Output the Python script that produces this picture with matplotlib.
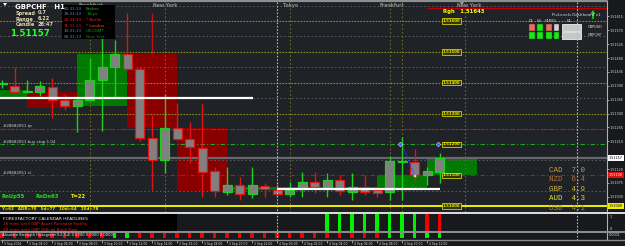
import matplotlib
matplotlib.use("Agg")
import matplotlib.pyplot as plt
from matplotlib.patches import Rectangle, Polygon

W, H = 625, 246
BG = "#1f2226"
AXBG = "#17191c"

# ---- data ----
symbol = "GBPCHF"
timeframe = "H1"
spread = "0.7"
day_range = "6.22"
candle_left = "28:47"
bid = 1.51157
rgh = 1.51643

opens = [1.51396, 1.51390, 1.51370, 1.51371, 1.51387, 1.51345, 1.51323, 1.51345, 1.51409, 1.51451,
         1.51493, 1.51445, 1.51220, 1.51149, 1.51252, 1.51216, 1.51188, 1.51114, 1.51046, 1.51069,
         1.51040, 1.51065, 1.51053, 1.51040, 1.51056, 1.51078, 1.51062, 1.51085, 1.51046, 1.51062,
         1.51053, 1.51046, 1.51144, 1.51143, 1.51101, 1.51110]
highs = [1.51409, 1.51451, 1.51409, 1.51406, 1.51416, 1.51364, 1.51351, 1.51480, 1.51557, 1.51538,
         1.51625, 1.51451, 1.51294, 1.51364, 1.51335, 1.51274, 1.51335, 1.51126, 1.51126, 1.51094,
         1.51126, 1.51075, 1.51078, 1.51078, 1.51110, 1.51110, 1.51107, 1.51101, 1.51107, 1.51101,
         1.51062, 1.51162, 1.51223, 1.51184, 1.51126, 1.51171]
lows = [1.51384, 1.51364, 1.51368, 1.51358, 1.51287, 1.51310, 1.51239, 1.51342, 1.51245, 1.51351,
        1.51441, 1.51210, 1.51053, 1.51107, 1.51213, 1.51139, 1.51030, 1.51030, 1.51036, 1.51020,
        1.51027, 1.51030, 1.51030, 1.51030, 1.51030, 1.51043, 1.51030, 1.51036, 1.51020, 1.51036,
        1.51030, 1.51020, 1.51020, 1.51078, 1.51069, 1.51075]
closes = [1.51400, 1.51371, 1.51372, 1.51390, 1.51345, 1.51323, 1.51345, 1.51409, 1.51451, 1.51493,
          1.51445, 1.51220, 1.51149, 1.51252, 1.51216, 1.51191, 1.51110, 1.51049, 1.51069, 1.51040,
          1.51069, 1.51056, 1.51040, 1.51053, 1.51078, 1.51062, 1.51085, 1.51049, 1.51062, 1.51046,
          1.51043, 1.51146, 1.51146, 1.51101, 1.51114, 1.51157]

# session boxes
box_start = [-0.2, 2, 6, 10, 14, 18, 30, 34]
box_end = [2, 6, 10, 14, 18, 30, 34, 38]
box_low = [1.51351, 1.51319, 1.51323, 1.51252, 1.51049, 1.51053, 1.51059, 1.51101]
box_high = [1.51377, 1.51371, 1.51493, 1.51493, 1.51252, 1.51062, 1.51101, 1.51155]
box_bull = [True, False, True, False, False, True, True, True]

grid_levels = [1.5165, 1.5155, 1.5145, 1.5135, 1.5125, 1.5115, 1.5105]
pivot_levels = [1.516, 1.515, 1.514, 1.513]
tag_levels = [1.516, 1.515, 1.514, 1.513, 1.512, 1.511, 1.510]
tp_level, entry_level, sl_level, y_level = 1.5125, 1.512, 1.511, 1.510
order_id = "#28682051"

# white range lines (start bar, end bar, price)
wline_start = [-0.2, 22]
wline_end = [20.1, 35.04]
wline_price = [1.51351, 1.51056]

session_bars = [7, 13, 23, 31, 32, 37]
day_bars = [22, 46]
session_names = ["Frankfurt", "New York", "Tokyo", "Frankfurt", "New York"]
session_name_bars = [6.1, 12.1, 22.5, 30.2, 36.4]

# 1.51165 is hidden under the bid tag in the screenshot
axis_ticks = [1.51615, 1.51570, 1.51525, 1.51480, 1.51435, 1.51390, 1.51345, 1.51300,
              1.51255, 1.51210, 1.51120, 1.51075, 1.51030]

hist_bars = [26, 27, 28, 29, 30, 31, 32, 33, 34, 35]
hist_up = [1, 1, 1, 1, 1, 1, 1, 1, 0, 0]
ash_up = [0, 0, 0, 0, 0, 0, 0, 0, 0, 1, 1, 0, 0, 0, 0, 0, 0, 0, 0, 0,
          0, 0, 0, 0, 0, 0, 0, 0, 0, 0, 0, 1, 1, 1, 1, 1]

time_bars = [0, 2, 4, 6, 8, 10, 12, 14, 16, 18, 20, 22, 24, 26, 28, 30, 32, 34]
time_labels = ["3 Sep 2014", "3 Sep 04:00", "3 Sep 06:00", "3 Sep 08:00", "3 Sep 10:00",
               "3 Sep 12:00", "3 Sep 14:00", "3 Sep 16:00", "3 Sep 18:00", "3 Sep 20:00",
               "3 Sep 22:00", "4 Sep 00:00", "4 Sep 02:00", "4 Sep 04:00", "4 Sep 06:00",
               "4 Sep 08:00", "4 Sep 10:00", "4 Sep 12:00"]

clock_times = ["10:31:13", "19:31:13", "12:31:13", "11:31:13", "10:31:13", "06:31:13"]
clock_names = ["Broker", "Tokyo", "* Berlin", "* London", "UTC/GMT", "New York"]

dash_cols = ["D1", "H4", "H1M15", "H1"]
dash_pairs = ["GBPUSD", "GBPCHF"]
dash_sig = [["dn", "up", "dn", "flat"], ["up", "up", "up", "up"]]

ccy_names = ["CAD", "NZD", "GBP", "AUD", "USD"]
ccy_vals = [7.0, 6.4, 4.9, 4.3, 4.1]

headlines = ["28 mins until GBP Asset Purchase Facility",
             "28 mins until GBP Official Bank Rate"]


fig = plt.figure(figsize=(W / 100, H / 100), dpi=100, facecolor=AXBG)


def px_axes(x0, y0, x1, y1):
    a = fig.add_axes([x0 / W, 1 - y1 / H, (x1 - x0) / W, (y1 - y0) / H])
    a.set_facecolor(BG)
    return a


XL = (-0.16, 48.4)

# ---- main chart ----
ax = px_axes(0, 0, 607, 212)
ax.set_xlim(*XL)
ax.set_ylim(1.50981, 1.51668)
for s in ax.spines.values():
    s.set_visible(False)
ax.set_xticks([])
ax.yaxis.tick_right()
ax.set_yticks(axis_ticks)
ax.set_yticklabels(["%.5f" % t for t in axis_ticks])
ax.tick_params(axis="y", colors="#d8d8d8", labelsize=2.4, length=1.5, width=0.5, pad=0.6)

for b0, b1, lo, hi, bull in zip(box_start, box_end, box_low, box_high, box_bull):
    ax.add_patch(Rectangle((b0, lo), b1 - b0, hi - lo, facecolor="#007a00" if bull else "#8a0000",
                           edgecolor="none", zorder=1))

for g in grid_levels:
    ax.axhline(g, color="#5c5f64", lw=0.7, ls=(0, (1.5, 2.5)), zorder=1.5)
for p in pivot_levels:
    ax.axhline(p, color="#8e8e1c", lw=0.8, ls=(0, (1.5, 1.2)), zorder=1.6)
ax.axhline(tp_level, color="#b41818", lw=0.8, ls=(0, (4, 2, 1, 2)), zorder=1.6)
ax.axhline(entry_level, color="#20a820", lw=0.8, ls=(0, (4, 2, 1, 2)), zorder=1.6)
ax.axhline(sl_level, color="#b41818", lw=0.8, ls=(0, (4, 2, 1, 2)), zorder=1.6)
ax.axhline(y_level, color="#ffff00", lw=1.3, zorder=1.6)
ax.axhline(bid, color="#66686c", lw=1.6, zorder=1.4)

for b in session_bars:
    ax.axvline(b, color="#6c6c22", lw=0.8, ls=(0, (1.5, 2)), zorder=1.5)
ax.vlines(12, box_high[3], highs[10], color="#c01010", lw=1, zorder=1.5)
ax.hlines(rgh, 34, XL[1], color="#c00000", lw=1, zorder=1.7)

# candles
for i, (o, h, l, c) in enumerate(zip(opens, highs, lows, closes)):
    col = "#1ed01e" if c >= o else "#e01414"
    ax.vlines(i, l, h, color=col, lw=1, zorder=3)
    ax.add_patch(Rectangle((i - 0.36, min(o, c)), 0.72, max(abs(c - o), 0.00001),
                           facecolor="#808080", edgecolor=col, lw=0.9, zorder=3.1))

for b0, b1, p in zip(wline_start, wline_end, wline_price):
    ax.hlines(p, b0, b1, color="white", lw=1.6, zorder=4)

# trade markers
ax.plot([32.1, 33.0], [entry_level - 0.0001, sl_level - 0.00001], color="#3040ff", lw=0.8,
        ls=(0, (1, 1)), zorder=4)
ax.plot([31.85, 34.9], [entry_level, entry_level], ls="none", marker="D", ms=2.4,
        mfc="#3a5cff", mec="white", mew=0.3, zorder=4)
ax.plot([33.05], [sl_level - 0.00003], ls="none", marker="s", ms=2, mfc="#f0a060",
        mec="white", mew=0.3, zorder=4)

# level tags inside chart
for t in tag_levels:
    ax.text(35.96, t, "%.5f" % t, ha="center", va="center", fontsize=2.8, color="#e8e800",
            fontweight="bold", zorder=5,
            bbox=dict(boxstyle="square,pad=0.2", fc="#34340e", ec="#d0d000", lw=0.6))

# order labels
ax.text(0.1, tp_level + 0.00002, order_id + " tp", fontsize=2.9, color="#d0d0d0", va="bottom", zorder=5)
ax.text(0.1, entry_level + 0.00002, order_id + " buy stop 1.04", fontsize=2.9, color="#d0d0d0",
        va="bottom", zorder=5)
ax.text(0.1, sl_level + 0.00002, order_id + " sl", fontsize=2.9, color="#d0d0d0", va="bottom", zorder=5)

# session names on top
xt = ax.get_xaxis_transform()
for nm, b in zip(session_names, session_name_bars):
    ax.text(b, 0.975, nm, transform=xt, fontsize=3.3, color="#8c8c8c", fontweight="bold",
            va="center", ha="left", zorder=5)

# axis price tags
yt = ax.get_yaxis_transform()
tag_kw = dict(transform=yt, fontsize=2.4, va="center", ha="left", clip_on=False, zorder=6)
ax.text(1.003, bid, "%.5f" % bid, color="black",
        bbox=dict(boxstyle="square,pad=0.25", fc="white", ec="none"), **tag_kw)
ax.text(1.003, sl_level, "%.5f" % sl_level, color="white",
        bbox=dict(boxstyle="square,pad=0.25", fc="#e01010", ec="none"), **tag_kw)
ax.text(1.003, y_level, "%.5f" % y_level, color="black",
        bbox=dict(boxstyle="square,pad=0.25", fc="#f0f000", ec="none"), **tag_kw)

# ---- sub window 1: histogram ----
ax1 = px_axes(0, 214, 607, 231)
ax1.set_xlim(*XL)
ax1.set_ylim(0, 1)
ax1.axis("off")
ax1.bar(hist_bars, [1] * len(hist_bars), width=0.26,
        color=["#00f000" if u else "#f00000" for u in hist_up], zorder=2)

# ---- sub window 2: strength squares ----
ax2 = px_axes(0, 233, 607, 237.5)
ax2.set_xlim(*XL)
ax2.set_ylim(0, 1)
ax2.axis("off")
ax2.bar(range(len(ash_up)), [1] * len(ash_up), width=0.26,
        color=["#00f000" if u else "#f00000" for u in ash_up])

# ---- time axis ----
axt = px_axes(0, 240, 607, 246)
axt.set_xlim(*XL)
axt.set_ylim(0, 1)
axt.axis("off")
for b, lab in zip(time_bars, time_labels):
    axt.vlines(b, 0.55, 1, color="#d0d0d0", lw=0.5)
    axt.text(b + 0.12, 0.4, lab, fontsize=2.2, color="#e0e0e0", va="center", ha="left")

# ---- overlay in pixel coordinates ----
ui = fig.add_axes([0, 0, 1, 1])
ui.set_xlim(0, W)
ui.set_ylim(H, 0)
ui.axis("off")
ui.patch.set_alpha(0)

ui.hlines(1, 0, 607, color="#8e8e8e", lw=1.6)
ui.vlines(607, 0, 240, color="#b0b0b0", lw=0.8)
for b in day_bars:
    xp = 2 + 12.5 * b
    ui.vlines(xp, 2, 240, color="#b8b8b8", lw=0.8, ls=(0, (1.5, 1.5)))
ui.hlines(213, 0, 625, color="#e0e0e0", lw=1.4)
ui.hlines(239.6, 0, 625, color="#8c8c8c", lw=1)

# top-left info
ui.add_patch(Polygon([[3, 3], [7, 3], [5, 6]], closed=True, fc="white", ec="none"))
ui.text(15, 7, symbol + "   " + timeframe, fontsize=5, color="white", fontweight="bold", va="center")
for yy, k, v in zip([13, 19, 24.5], ["Spread", "Range", "Candle"], [spread, day_range, candle_left]):
    ui.text(16, yy, k, fontsize=3.6, color="#e2dab4", fontweight="bold", va="center")
    ui.text(38, yy, v, fontsize=3.6, color="#e2dab4", fontweight="bold", va="center")
ui.text(10, 33, "%.5f" % bid, fontsize=6.3, color="#28ff28", fontweight="bold", va="center")

# session clock
ui.add_patch(Rectangle((62, 5), 53, 34, fc="black", ec="none"))
time_cols = ["#6b86b8", "#6b86b8", "#ff2020", "#d02020", "#6b86b8", "#6b86b8"]
name_cols = ["#1cb01c", "#1ca01c", "#ff2020", "#ff3a2a", "#1ca01c", "#108a10"]
for k, (tm, nm) in enumerate(zip(clock_times, clock_names)):
    yy = 8.5 + 5.7 * k
    ui.text(64, yy, tm, fontsize=3.0, color=time_cols[k], va="center")
    ui.text(86, yy, nm, fontsize=3.0, color=name_cols[k], va="center")

# Rgh
ui.text(443, 11, "Rgh   %.5f" % rgh, fontsize=3.8, color="#ffff00", fontweight="bold", va="center")
ui.add_patch(Polygon([[460, 2], [464, 2], [462, 5]], closed=True, fc="#a0a0a0", ec="none"))

# dashboard
ui.text(552, 14.5, "PivLevels Dashboard v1", fontsize=3.0, color="#d8d8d8", va="center")
ui.add_patch(Polygon([[590.5, 14], [593, 10], [595.5, 14], [593.8, 14], [593.8, 19], [592.2, 19],
                      [592.2, 14]], closed=True, fc="#10e010", ec="none"))
for lab, xx in zip(dash_cols, [529, 537, 545, 567]):
    ui.text(xx, 20.5, lab, fontsize=2.4, color="#e0e0e0", va="center")
sig_col = {"up": "#10f010", "dn": "#f26a58", "flat": "#d4d4d4"}
for r, (pair, sigs) in enumerate(zip(dash_pairs, dash_sig)):
    y0 = 24 + 8 * r
    for c, (x0, w) in enumerate(zip([529, 537, 546, 554], [6, 6, 6, 5])):
        ui.add_patch(Rectangle((x0, y0), w, 7, fc=sig_col[sigs[c]], ec="#303030", lw=0.3))
    ui.add_patch(Rectangle((562, y0), 19, 7, fc="#c8c8c8", ec="#f0f0f0", lw=0.6))
    ui.text(588, y0 + 3.5, pair, fontsize=2.5, color="#e0e0e0", va="center")

# currency strength
ccy_cols = ["#d29c3c", "#b8743a", "#d0be44", "#e6dc40", "#a89040"]
for k, (nm, v) in enumerate(zip(ccy_names, ccy_vals)):
    ui.text(549, 170 + 9.6 * k, "%s  %.1f" % (nm, v), fontsize=5.4, color=ccy_cols[k],
            family="Liberation Mono", va="center")

# bottom info texts
ui.text(2, 196.5, "RnUp55", fontsize=3.8, color="#20e020", fontweight="bold", va="center")
ui.text(35, 196.5, "RnDn63", fontsize=3.8, color="#20e020", fontweight="bold", va="center")
ui.text(70, 196.5, "T=22", fontsize=3.8, color="#f0f000", fontweight="bold", va="center")
ui.text(2, 209, "Y=63   ADR=70   5d=77   10d=64   20d=78", fontsize=2.9, color="#f0f000",
        fontweight="bold", va="center")

# calendar headlines box
ui.add_patch(Rectangle((0, 214), 177, 17.5, fc="black", ec="none", zorder=1))
ui.text(3, 219, "FOREXFACTORY CALENDAR HEADLINES", fontsize=3.2, color="#f0f0f0", va="center", zorder=2)
for k, hl in enumerate(headlines):
    ui.text(3, 224.5 + 5.5 * k, hl, fontsize=3.0, color="#e02020", va="center", zorder=2)
ui.hlines(232, 0, 625, color="#8c8c8c", lw=1.5, zorder=3)
ui.text(2, 235.3, "Absolute Strength Histogram(9,2,3,4) 0.0000 0.0000 0.0000", fontsize=2.6,
        color="#f0f0f0", va="center", zorder=3)

# sub window scale labels
ui.text(610, 216.5, "1", fontsize=2.6, color="#d8d8d8", va="center")
ui.text(610, 229, "0", fontsize=2.6, color="#d8d8d8", va="center")
ui.text(609, 235.5, "0.0001", fontsize=2.4, color="#d8d8d8", va="center")

fig.savefig("out.png", dpi=100, facecolor=fig.get_facecolor())
